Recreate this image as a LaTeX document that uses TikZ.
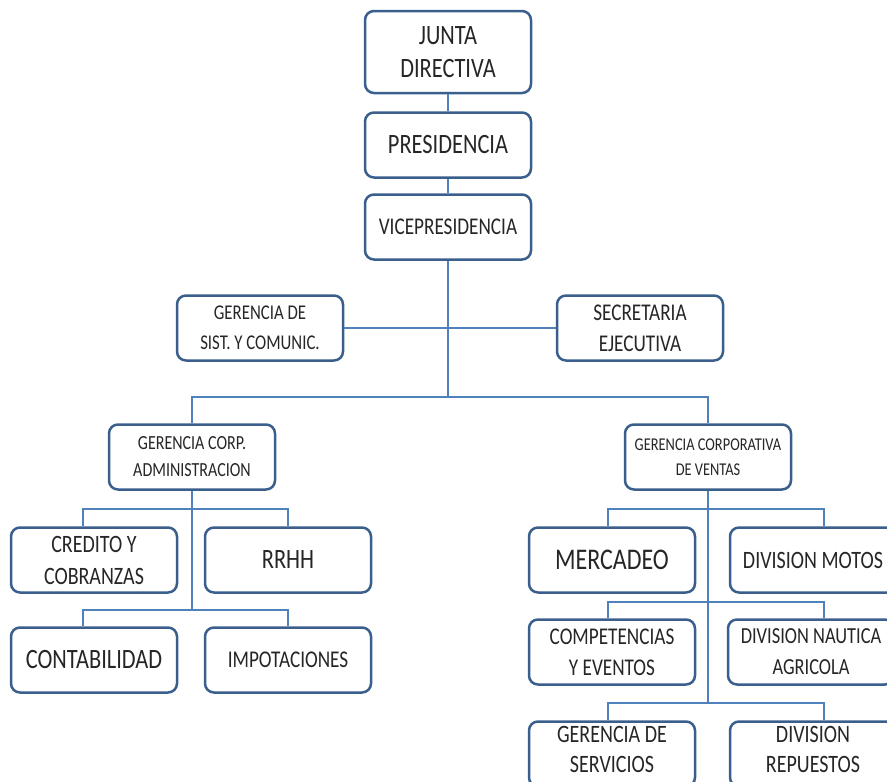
\documentclass[tikz,border=0pt]{standalone}
\usepackage{fontspec}
\setmainfont{Carlito}[FakeStretch=0.8]
\definecolor{boxline}{HTML}{3A5F8C}
\definecolor{linkblue}{HTML}{4F81BD}

\begin{document}
\begin{tikzpicture}[x=1pt, y=-1pt,
    unit/.style={draw=boxline, line width=2.5pt, rounded corners=9pt, fill=white,
        minimum width=166pt, minimum height=65pt, align=center, inner sep=2pt, text=black!85},
    link/.style={draw=linkblue, line width=1.3pt}]
    \useasboundingbox (0,0) rectangle (887,782);
    \clip (0,0) rectangle (887,782);

    % Top of the chart
    \node[unit, minimum height=82pt, font=\fontsize{28}{33}\selectfont] (junta) at (448,52) {JUNTA\\DIRECTIVA};
    \node[unit, font=\fontsize{28}{33}\selectfont] (pres) at (448,145) {PRESIDENCIA};
    \node[unit, font=\fontsize{24}{28}\selectfont] (vice) at (448,227) {VICEPRESIDENCIA};
    \node[unit, font=\fontsize{21}{30}\selectfont] (sist) at (260,328) {GERENCIA DE\\SIST. Y COMUNIC.};
    \node[unit, font=\fontsize{24}{31}\selectfont] (secr) at (640,328) {SECRETARIA\\EJECUTIVA};

    % Corporate managements
    \node[unit, font=\fontsize{20}{27}\selectfont] (admin) at (192,457) {GERENCIA CORP.\\ADMINISTRACION};
    \node[unit, font=\fontsize{18}{25}\selectfont] (ventas) at (708,457) {GERENCIA CORPORATIVA\\DE VENTAS};

    % Administration units
    \node[unit, font=\fontsize{25}{32}\selectfont] (credito) at (94,560) {CREDITO Y\\COBRANZAS};
    \node[unit, font=\fontsize{28}{33}\selectfont] (rrhh) at (288,560) {RRHH};
    \node[unit, font=\fontsize{28}{33}\selectfont] (conta) at (94,660) {CONTABILIDAD};
    \node[unit, font=\fontsize{24}{28}\selectfont] (impo) at (288,660) {IMPOTACIONES};

    % Sales units
    \node[unit, font=\fontsize{30}{33}\selectfont] (merca) at (612,560) {MERCADEO};
    \node[unit, font=\fontsize{25}{30}\selectfont] (motos) at (813,560) {DIVISION MOTOS};
    \node[unit, font=\fontsize{24}{31}\selectfont] (compet) at (612,652) {COMPETENCIAS\\Y EVENTOS};
    \node[unit, font=\fontsize{23}{31}\selectfont] (nautica) at (811,652) {DIVISION NAUTICA\\AGRICOLA};
    \node[unit, text depth=10pt, font=\fontsize{25}{30}\selectfont] (servicios) at (612,754) {GERENCIA DE\\SERVICIOS};
    \node[unit, text depth=10pt, font=\fontsize{25}{30}\selectfont] (repuestos) at (813,754) {DIVISION\\REPUESTOS};

    % Connectors
    \coordinate (hub) at (448,397);
    \coordinate (lbar1) at (192,509);
    \coordinate (lbar2) at (192,610);
    \coordinate (rbar1) at (708,509);
    \coordinate (rbar2) at (708,602);
    \coordinate (rbar3) at (708,703);

    \draw[link] (junta) -- (pres);
    \draw[link] (pres) -- (vice);
    \draw[link] (sist) -- (secr);
    \draw[link] (vice) -- (hub);
    \draw[link] (admin.north) |- (hub) -| (ventas.north);

    \draw[link] (admin) -- (lbar2);
    \draw[link] ([xshift=-11pt]credito.north) |- (lbar1) -| (rrhh.north);
    \draw[link] ([xshift=-11pt]conta.north) |- (lbar2) -| (impo.north);

    \draw[link] (ventas) -- (rbar3);
    \draw[link] ([xshift=-4pt]merca.north) |- (rbar1) -| ([xshift=11pt]motos.north);
    \draw[link] ([xshift=-4pt]compet.north) |- (rbar2) -| ([xshift=13pt]nautica.north);
    \draw[link] ([xshift=-4pt]servicios.north) |- (rbar3) -| ([xshift=11pt]repuestos.north);
\end{tikzpicture}
\end{document}
